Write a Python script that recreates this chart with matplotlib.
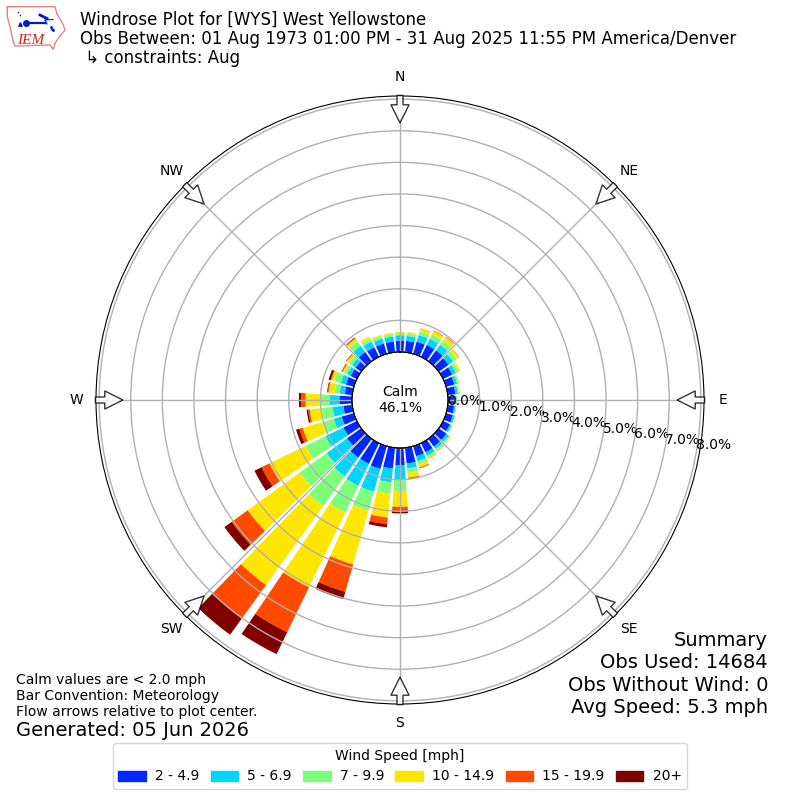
#!/usr/bin/env python3
import numpy as np
import matplotlib
matplotlib.use('Agg')
import matplotlib.pyplot as plt
from matplotlib.patches import Patch

# percent of obs per 10 degree direction, N going clockwise
directions = list(range(0, 360, 10))
speed_2_5 = [0.36, 0.36, 0.40, 0.42, 0.42, 0.38, 0.32, 0.27, 0.24, 0.20,
             0.20, 0.22, 0.24, 0.30, 0.30, 0.32, 0.33, 0.50, 0.54, 0.66,
             0.75, 0.73, 0.73, 0.55, 0.47, 0.40, 0.28, 0.40, 0.24, 0.26,
             0.22, 0.22, 0.36, 0.34, 0.34, 0.34]
speed_5_7 = [0.17, 0.16, 0.22, 0.22, 0.22, 0.18, 0.13, 0.09, 0.08, 0.07,
             0.05, 0.06, 0.06, 0.09, 0.10, 0.12, 0.17, 0.16, 0.47, 0.44,
             0.75, 0.77, 0.73, 0.80, 0.63, 0.26, 0.34, 0.30, 0.16, 0.17,
             0.12, 0.14, 0.24, 0.20, 0.16, 0.16]
speed_7_10 = [0.07, 0.07, 0.12, 0.15, 0.16, 0.13, 0.09, 0.05, 0.04, 0.03,
              0.02, 0.03, 0.03, 0.05, 0.05, 0.06, 0.10, 0.14, 0.35, 0.36,
              0.62, 0.94, 1.17, 1.05, 0.70, 0.38, 0.35, 0.33, 0.16, 0.21,
              0.10, 0.12, 0.18, 0.10, 0.08, 0.08]
speed_10_15 = [0.04, 0.05, 0.09, 0.12, 0.14, 0.10, 0.06, 0.03, 0.02, 0.01,
               0.01, 0.01, 0.01, 0.02, 0.03, 0.04, 0.10, 0.15, 0.50, 0.76,
               1.77, 2.63, 3.08, 2.03, 1.27, 0.64, 0.38, 0.44, 0.19, 0.10,
               0.06, 0.08, 0.10, 0.07, 0.04, 0.04]
speed_15_20 = [0.0, 0.0, 0.01, 0.02, 0.02, 0.01, 0.0, 0.0, 0.0, 0.0,
               0.0, 0.0, 0.0, 0.0, 0.01, 0.01, 0.03, 0.04, 0.14, 0.21,
               0.90, 1.58, 1.31, 0.63, 0.28, 0.11, 0.05, 0.14, 0.03, 0.02,
               0.03, 0.02, 0.02, 0.0, 0.0, 0.0]
speed_20p = [0.0, 0.0, 0.0, 0.0, 0.0, 0.0, 0.0, 0.0, 0.0, 0.0,
             0.0, 0.0, 0.0, 0.0, 0.0, 0.0, 0.0, 0.0, 0.07, 0.10,
             0.24, 0.77, 0.63, 0.28, 0.25, 0.11, 0.05, 0.07, 0.02, 0.07,
             0.01, 0.01, 0.02, 0.0, 0.0, 0.0]

labels = ['2 - 4.9', '5 - 6.9', '7 - 9.9', '10 - 14.9', '15 - 19.9', '20+']
colors = ['#0028ff', '#00d4ff', '#7dff7a', '#ffe600', '#ff4a00', '#800000']
series = [speed_2_5, speed_5_7, speed_7_10, speed_10_15, speed_15_20, speed_20p]
compass = ['N', 'NE', 'E', 'SE', 'S', 'SW', 'W', 'NW']
rticks = [0, 1, 2, 3, 4, 5, 6, 7, 8]

fig = plt.figure(figsize=(8, 8), dpi=100)
ax = fig.add_axes([0.12, 0.12, 0.76, 0.76], projection='polar')
ax.set_theta_zero_location('N')
ax.set_theta_direction(-1)
ax.set_rorigin(-1.52)
ax.set_rlim(0, 8.1)

theta = np.radians(directions)
bottom = np.zeros(len(directions))
for vals, color in zip(series, colors):
    vals = np.array(vals)
    ax.bar(theta, vals, width=np.radians(8.2), bottom=bottom, color=color, linewidth=0)
    bottom += vals

ax.set_xticks(np.radians(np.arange(0, 360, 45)))
ax.set_xticklabels(compass, fontsize=10)
ax.set_yticks(rticks)
ax.set_yticklabels([f'{t:.1f}%' for t in rticks], fontsize=10)
ax.set_rlabel_position(100)
ax.grid(True, color='#b0b0b0', linewidth=1)

# black edge of the calm hole
ax.plot(np.linspace(0, 2 * np.pi, 200), np.zeros(200), color='black', linewidth=0.8, clip_on=False, zorder=4)

# flow arrows pointing at plot center
for deg in range(0, 360, 45):
    t = np.radians(deg)
    ax.annotate('', xy=(t, 7.25), xytext=(t, 8.12), zorder=5, annotation_clip=False,
                arrowprops=dict(facecolor='white', edgecolor='black', alpha=0.8,
                                width=4.3, headwidth=13, headlength=13, shrink=0, linewidth=1))

ax.text(0.5, 0.5, 'Calm\n46.1%', transform=ax.transAxes, ha='center', va='center', fontsize=10, zorder=5)

fig.text(0.10, 0.9515, 'Windrose Plot for [WYS] West Yellowstone\n'
         'Obs Between: 01 Aug 1973 01:00 PM - 31 Aug 2025 11:55 PM America/Denver\n'
         ' \u21b3 constraints: Aug', fontsize=12, va='center', linespacing=1.06)

fig.text(0.02, 0.13, 'Calm values are < 2.0 mph\nBar Convention: Meteorology\n'
         'Flow arrows relative to plot center.', fontsize=10, va='center', linespacing=1.15)
fig.text(0.02, 0.0875, 'Generated: 05 Jun 2026', fontsize=14, va='center')
fig.text(0.96, 0.1575, 'Summary\nObs Used: 14684\nObs Without Wind: 0\nAvg Speed: 5.3 mph',
         fontsize=14, ha='right', va='center', linespacing=1.22)

handles = [Patch(color=c, label=l) for c, l in zip(colors, labels)]
fig.legend(handles=handles, title='Wind Speed [mph]', loc='lower center', ncol=6,
           bbox_to_anchor=(0.5, 0.005), fontsize=10, title_fontsize=10,
           columnspacing=0.8, handletextpad=0.65)

# IEM logo, drawn roughly since no image file is available
outline_x = [7.3, 55, 56.7, 63.3, 65, 58.3, 55, 53.3, 50, 15, 13.3, 10, 7.3, 7.3]
outline_y = [6.7, 6.7, 13.3, 25, 30, 38.3, 43.3, 49.3, 45, 46, 41.7, 26.7, 16.7, 6.7]
logo = fig.add_axes([0, 1 - 52 / 800, 70 / 800, 52 / 800])
logo.set_xlim(0, 70)
logo.set_ylim(52, 0)
logo.axis('off')
logo.plot(outline_x, outline_y, color='#e88080', linewidth=1)
logo.plot([25, 45], [23.3, 23.3], color='#0018d0', linewidth=1.6)
logo.plot([25.6], [23.3], 'o', color='#0018d0', markersize=4)
logo.plot([18, 22], [12, 18], color='#0018d0', linewidth=1, linestyle=':')
logo.plot([40, 47], [15, 18.5], color='#0018d0', linewidth=2)
logo.plot([45, 53], [20, 19.5], color='#0018d0', linewidth=0.8)
logo.plot([45, 47], [20, 24], color='#0018d0', linewidth=0.8)
logo.plot([51, 52, 53], [27, 29, 30], '.', color='#0018d0', markersize=2)
logo.plot([20], [23.5], '^', color='#0018d0', markersize=2.5)
logo.text(17, 44, 'IEM', family='Liberation Serif', style='italic', color='#d02020', fontsize=11)

fig.savefig('out.png', dpi=100)
